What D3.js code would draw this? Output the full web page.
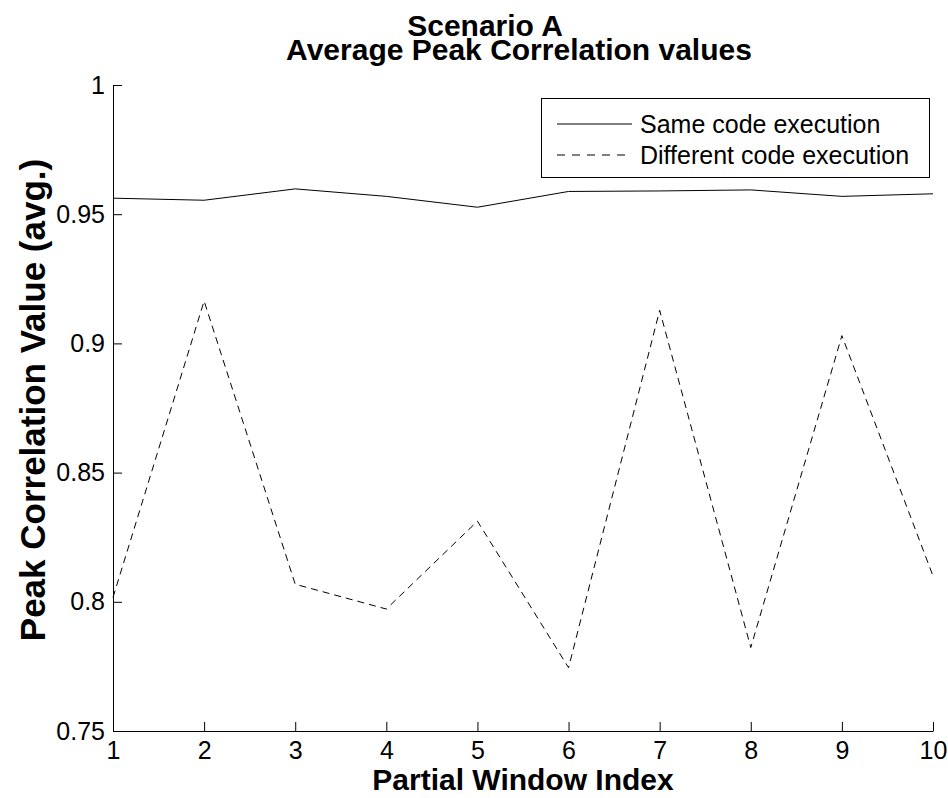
<!DOCTYPE html>
<html>
<head>
<meta charset="utf-8">
<script src="https://cdn.jsdelivr.net/npm/d3@7"></script>
<style>
  html, body { margin: 0; padding: 0; background: #fff; }
  svg { display: block; font-family: "Liberation Sans", Arial, sans-serif; }
</style>
</head>
<body>
<svg id="chart" width="948" height="798"></svg>
<script>
// Partial window indices and the averaged peak correlation per window
const windowIndex = [1, 2, 3, 4, 5, 6, 7, 8, 9, 10];
const sameCode = [0.9562, 0.9554, 0.9598, 0.9569, 0.9527, 0.9588, 0.9590, 0.9594, 0.9569, 0.9579];
const diffCode = [0.8017, 0.9164, 0.8068, 0.7972, 0.8312, 0.7745, 0.9128, 0.7823, 0.9030, 0.8100];
const yTicks = [0.75, 0.8, 0.85, 0.9, 0.95, 1];
const xTicks = windowIndex;
const seriesNames = ["Same code execution", "Different code execution"];
const titleLines = ["Scenario A", "Average Peak Correlation values"];

const svg = d3.select("#chart");
const plotLeft = 113, plotRight = 933, plotTop = 85, plotBottom = 731;

const x = d3.scaleLinear().domain([1, 10]).range([plotLeft, plotRight]);
const y = d3.scaleLinear().domain([0.75, 1]).range([plotBottom, plotTop]);

// axes: ticks point into the plot area
const xAxis = d3.axisBottom(x).tickValues(xTicks).tickSizeInner(-9).tickSizeOuter(0).tickPadding(10).tickFormat(d3.format("d"));
const yAxis = d3.axisLeft(y).tickValues(yTicks).tickSizeInner(-9).tickSizeOuter(0).tickPadding(8).tickFormat(d => d === 1 ? "1" : d3.format("")(d));

const gx = svg.append("g").attr("transform", `translate(0,${plotBottom})`).call(xAxis);
const gy = svg.append("g").attr("transform", `translate(${plotLeft},0)`).call(yAxis);
[gx, gy].forEach(g => {
  g.selectAll("path,line").attr("stroke", "#000").attr("stroke-width", 1);
  g.selectAll("text").attr("fill", "#000").style("font-size", "25px");
});
gx.selectAll("text").attr("dy", "0.71em");

const line = d3.line().x((d, i) => x(windowIndex[i])).y(d => y(d));

svg.append("path").datum(sameCode).attr("d", line)
  .attr("fill", "none").attr("stroke", "#000").attr("stroke-width", 1);
svg.append("path").datum(diffCode).attr("d", line)
  .attr("fill", "none").attr("stroke", "#000").attr("stroke-width", 1)
  .attr("stroke-dasharray", "7,5");

// legend
const lg = svg.append("g");
lg.append("rect").attr("x", 541.5).attr("y", 98.5).attr("width", 388).attr("height", 79)
  .attr("fill", "#fff").attr("stroke", "#000").attr("stroke-width", 1);
seriesNames.forEach((name, i) => {
  const yy = 124 + i * 31;
  lg.append("line").attr("x1", 557).attr("x2", 632).attr("y1", yy).attr("y2", yy)
    .attr("stroke", "#000").attr("stroke-width", 1)
    .attr("stroke-dasharray", i === 1 ? "8,7" : null);
  lg.append("text").attr("x", 640).attr("y", yy).attr("dy", "0.35em")
    .style("font-size", "25px").text(name);
});

// titles
svg.append("text").attr("x", 485).attr("y", 36).attr("text-anchor", "middle")
  .style("font-size", "30px").style("font-weight", "bold").text(titleLines[0]);
svg.append("text").attr("x", 519).attr("y", 60).attr("text-anchor", "middle")
  .style("font-size", "30px").style("font-weight", "bold").text(titleLines[1]);

svg.append("text").attr("x", 523).attr("y", 790).attr("text-anchor", "middle")
  .style("font-size", "30px").style("font-weight", "bold").text("Partial Window Index");
svg.append("text").attr("transform", "translate(45,400) rotate(-90)").attr("text-anchor", "middle")
  .style("font-size", "35px").style("font-weight", "bold").text("Peak Correlation Value (avg.)");
</script>
</body>
</html>
